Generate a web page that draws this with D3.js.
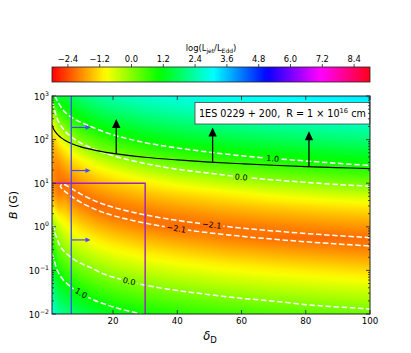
<!DOCTYPE html>
<html>
<head>
<meta charset="utf-8">
<script src="https://cdn.jsdelivr.net/npm/d3@7"></script>
<style>
body { margin: 0; background: #fff; }
text { font-family: "DejaVu Sans", sans-serif; }
</style>
</head>
<body>
<script>

// ---- data ----

// grid of log(Ljet/LEdd): one column per delta_D, rows are log10 B from 3 down to -2
var deltaCols = [1, 2, 3, 5, 7, 10, 15, 20, 30, 40, 55, 70, 85, 100];
var logBRows = [3, 2.75, 2.5, 2.25, 2, 1.75, 1.5, 1.25, 1, 0.75, 0.5, 0.25, 0,
                -0.25, -0.5, -0.75, -1, -1.25, -1.5, -1.75, -2];

var colD1   = [1.0, 0.1, -0.5, -0.95, -1.3, -1.55, -1.72, -1.85, -1.9, -1.75, -1.2, -0.45, 0.15, 0.5, 0.85, 1.2, 1.55, 1.9, 2.25, 2.6, 2.95];
var colD2   = [1.6, 0.6, -0.2, -0.8, -1.3, -1.62, -1.85, -1.97, -2.0, -1.85, -1.4, -0.8, -0.25, 0.2, 0.55, 0.88, 1.22, 1.57, 1.92, 2.27, 2.62];
var colD3   = [1.7, 0.95, 0.3, -0.35, -1.0, -1.45, -1.8, -2.02, -2.12, -2.0, -1.6, -1.05, -0.5, -0.15, 0.2, 0.55, 0.9, 1.25, 1.6, 1.95, 2.3];
var colD5   = [1.46, 1.01, 0.55, 0.03, -0.57, -1.13, -1.52, -1.86, -2.17, -1.92, -1.56, -1.19, -0.83, -0.46, -0.09, 0.28, 0.65, 1.01, 1.38, 1.75, 2.12];
var colD7   = [1.72, 1.27, 0.82, 0.34, -0.22, -0.82, -1.30, -1.67, -1.99, -2.14, -1.78, -1.41, -1.04, -0.67, -0.30, 0.07, 0.44, 0.81, 1.18, 1.55, 1.92];
var colD10  = [2.0, 1.55, 1.1, 0.65, 0.15, -0.45, -1.05, -1.45, -1.8, -2.1, -2.0, -1.64, -1.27, -0.90, -0.53, -0.16, 0.21, 0.58, 0.95, 1.32, 1.69];
var colD15  = [2.28, 1.87, 1.42, 0.97, 0.50, -0.03, -0.63, -1.17, -1.55, -1.89, -2.19, -1.90, -1.53, -1.16, -0.79, -0.42, -0.05, 0.32, 0.69, 1.06, 1.43];
var colD20  = [2.47, 2.08, 1.64, 1.19, 0.74, 0.25, -0.33, -0.93, -1.37, -1.73, -2.04, -2.08, -1.72, -1.35, -0.98, -0.61, -0.24, 0.13, 0.50, 0.87, 1.24];
var colD30  = [2.72, 2.36, 1.96, 1.51, 1.06, 0.60, 0.09, -0.51, -1.09, -1.48, -1.83, -2.13, -1.98, -1.61, -1.24, -0.87, -0.50, -0.13, 0.24, 0.61, 0.98];
var colD40  = [2.87, 2.54, 2.16, 1.73, 1.28, 0.83, 0.35, -0.21, -0.81, -1.29, -1.66, -1.98, -2.15, -1.79, -1.42, -1.05, -0.68, -0.31, 0.06, 0.43, 0.80];
var colD55  = [3.04, 2.74, 2.38, 1.98, 1.53, 1.08, 0.63, 0.13, -0.47, -1.07, -1.46, -1.81, -2.11, -1.99, -1.63, -1.26, -0.89, -0.52, -0.15, 0.22, 0.59];
var colD70  = [3.15, 2.86, 2.53, 2.15, 1.72, 1.27, 0.82, 0.34, -0.22, -0.82, -1.30, -1.67, -1.99, -2.14, -1.78, -1.41, -1.04, -0.67, -0.30, 0.07, 0.44];
var colD85  = [3.23, 2.96, 2.65, 2.29, 1.87, 1.42, 0.97, 0.51, -0.02, -0.62, -1.16, -1.55, -1.89, -2.19, -1.90, -1.53, -1.16, -0.79, -0.42, -0.05, 0.32];
var colD100 = [3.3, 3.05, 2.75, 2.4, 2.0, 1.55, 1.1, 0.65, 0.15, -0.45, -1.05, -1.45, -1.8, -2.1, -2.0, -1.64, -1.27, -0.90, -0.53, -0.16, 0.21];

var field = [colD1, colD2, colD3, colD5, colD7, colD10, colD15, colD20, colD30, colD40, colD55, colD70, colD85, colD100];

// contour lines, [delta_D, log10 B]
var cUpper10 = [[1.9, 3.0], [3, 2.84], [5.17, 2.62], [8, 2.47], [12.4, 2.32], [20, 2.11], [30, 1.93], [40, 1.81], [50, 1.71], [60, 1.63], [70, 1.565], [80, 1.51], [90, 1.455], [100, 1.41]];
var cUpper00 = [[1.0, 2.85], [1.5, 2.76], [2, 2.62], [3.1, 2.40], [5, 2.20], [6.7, 2.08], [10, 1.92], [14.5, 1.77], [20, 1.63], [30, 1.45], [40, 1.32], [50, 1.23], [60, 1.14], [70, 1.075], [80, 1.02], [90, 0.97], [100, 0.93]];
var cM21Upper = [[3.6, 0.93], [4.2, 0.98], [5.2, 0.96], [7, 0.88], [10, 0.75], [15, 0.574], [20, 0.449], [30, 0.273], [40, 0.148], [50, 0.051], [60, -0.028], [70, -0.095], [80, -0.153], [90, -0.204], [100, -0.25]];
var cM21Lower = [[3.6, 0.93], [4.2, 0.87], [5.2, 0.80], [7, 0.70], [10, 0.56], [15, 0.384], [20, 0.259], [30, 0.083], [40, -0.042], [50, -0.139], [60, -0.218], [70, -0.285], [80, -0.343], [90, -0.394], [100, -0.44]];
var cLower00 = [[1.0, 0.03], [1.53, 0.0], [2, -0.16], [2.6, -0.28], [3.6, -0.45], [5, -0.58], [7.25, -0.72], [10, -0.84], [12.9, -0.93], [17, -1.08], [23.3, -1.22], [30, -1.34], [40, -1.46], [50.3, -1.56], [60, -1.64], [69.4, -1.70], [80.8, -1.79], [90, -1.84], [100, -1.885]];
var cLower10 = [[1.0, -0.62], [1.53, -0.72], [2, -0.85], [2.6, -0.99], [4, -1.17], [6.72, -1.37], [10.9, -1.56], [14, -1.68], [18.1, -1.79], [22, -1.88], [27.5, -1.98], [29, -2.02]];

// contour labels: which line, at which delta_D
var contourLabels = [
  {line: cUpper10, d: 69.7, text: "1.0"},
  {line: cUpper00, d: 59.9, text: "0.0"},
  {line: cM21Upper, d: 50.7, text: "\u22122.1"},
  {line: cM21Lower, d: 39.7, text: "\u22122.1"},
  {line: cLower00, d: 25, text: "0.0"},
  {line: cLower10, d: 10.05, text: "1.0"}
];

// black solid limit line, [delta_D, B]
var limitDelta = [1, 1.5, 2, 3, 4, 5, 7, 10, 15, 20, 30, 40, 50, 60, 70, 80, 90, 100];
var limitB = [216, 176, 153, 125, 108, 96.6, 81.6, 68.3, 55.8, 48.3, 39.4, 34.2, 30.5, 27.9, 25.8, 24.1, 22.8, 21.6];

// black arrows pointing up from the limit line
var upArrows = [{d: 21, from: 47, to: 295}, {d: 51, from: 30.2, to: 190}, {d: 81, from: 24, to: 155}];

// blue line at delta_D = 7 with arrows to the right
var blueDelta = 7, blueArrowEnd = 13;
var blueArrowB = [190, 19.5, 0.5];

// purple box corner
var purpleDelta = 30, purpleB = 10;

var xTicks = [20, 40, 60, 80, 100];
var yDecades = [-2, -1, 0, 1, 2, 3];
var cbRange = [-3, 9];
var cbTicks = [-2.4, -1.2, 0.0, 1.2, 2.4, 3.6, 4.8, 6.0, 7.2, 8.4];

// matplotlib "hsv" colormap
var hsvStops = [0, 0.15873, 0.174603, 0.333333, 0.349206, 0.507937, 0.666667, 0.68254, 0.84127, 0.857143, 1];
var hsvColors = ["rgb(255,0,0)", "rgb(255,239,0)", "rgb(247,255,0)", "rgb(8,255,0)", "rgb(0,255,16)", "rgb(0,255,255)",
                 "rgb(0,16,255)", "rgb(16,0,255)", "rgb(255,0,255)", "rgb(255,0,239)", "rgb(255,0,24)"];

// ---- drawing ----

var W = 411, H = 353;
var L = 52, R = 370, T = 96, B = 314;

var svg = d3.select("body").append("svg")
    .attr("width", W).attr("height", H)
    .style("display", "block");

var x = d3.scaleLinear().domain([1, 100]).range([L, R]);
var y = d3.scaleLog().domain([1e-2, 1e3]).range([B, T]);
var yl = v => y(Math.pow(10, v));

var cmap = d3.scaleLinear().domain(hsvStops).range(hsvColors).interpolate(d3.interpolateRgb).clamp(true);
var norm = d3.scaleLinear().domain(cbRange).range([0, 1]).clamp(true);

var defs = svg.append("defs");
defs.append("clipPath").attr("id", "plotclip")
  .append("rect").attr("x", L).attr("y", T).attr("width", R - L).attr("height", B - T);

// heat map (bilinear shading of the grid)
var nC = deltaCols.length, nR = logBRows.length;
var colIdx = d3.scaleLinear().domain(deltaCols).range(d3.range(nC)).clamp(true);
var rowIdx = d3.scaleLinear().domain(logBRows).range(d3.range(nR)).clamp(true);
var pw = R - L, ph = B - T;
var cv = document.createElement("canvas");
cv.width = pw; cv.height = ph;
var ctx = cv.getContext("2d");
var im = ctx.createImageData(pw, ph);
for (var j = 0; j < ph; j++) {
  var r = rowIdx(Math.log10(y.invert(T + j + 0.5)));
  var r0 = Math.min(Math.floor(r), nR - 2), fr = r - r0;
  for (var i = 0; i < pw; i++) {
    var c = colIdx(x.invert(L + i + 0.5));
    var c0 = Math.min(Math.floor(c), nC - 2), fc = c - c0;
    var v = (1 - fc) * ((1 - fr) * field[c0][r0] + fr * field[c0][r0 + 1]) +
            fc * ((1 - fr) * field[c0 + 1][r0] + fr * field[c0 + 1][r0 + 1]);
    var col = d3.rgb(cmap(norm(v)));
    var k = 4 * (j * pw + i);
    im.data[k] = col.r; im.data[k + 1] = col.g; im.data[k + 2] = col.b; im.data[k + 3] = 255;
  }
}
ctx.putImageData(im, 0, 0);
svg.append("image")
    .attr("x", L).attr("y", T).attr("width", pw).attr("height", ph)
    .attr("href", cv.toDataURL());

var plot = svg.append("g").attr("clip-path", "url(#plotclip)");

// contour lines with gaps under labels
var mask = defs.append("mask").attr("id", "lblmask").attr("maskUnits", "userSpaceOnUse")
    .attr("x", 0).attr("y", 0).attr("width", W).attr("height", H);
mask.append("rect").attr("x", 0).attr("y", 0).attr("width", W).attr("height", H).attr("fill", "white");

var cline = d3.line().x(p => x(p[0])).y(p => yl(p[1])).curve(d3.curveCatmullRom.alpha(0.5));
var m21Loop = cM21Upper.slice().reverse().concat(cM21Lower.slice(1));
var clines = [cUpper10, cUpper00, m21Loop, cLower00, cLower10];

plot.append("g").attr("mask", "url(#lblmask)")
  .selectAll("path").data(clines).enter().append("path")
    .attr("d", cline)
    .attr("fill", "none")
    .attr("stroke", "white")
    .attr("stroke-width", 1.5)
    .attr("stroke-dasharray", "5.5,2.6");

var lblG = plot.append("g");
contourLabels.forEach(function(lb) {
  var ld = lb.line.map(p => p[0]), lv = lb.line.map(p => p[1]);
  var along = d3.scaleLinear().domain(ld).range(lv);
  var px = x(lb.d), py = yl(along(lb.d));
  var ang = Math.atan2(yl(along(lb.d + 3)) - yl(along(lb.d - 3)), x(lb.d + 3) - x(lb.d - 3)) * 180 / Math.PI;
  var t = lblG.append("text")
      .attr("transform", `translate(${px},${py}) rotate(${ang})`)
      .attr("text-anchor", "middle")
      .attr("dy", "0.35em")
      .attr("font-size", 8)
      .attr("fill", "black")
      .text(lb.text);
  var w = t.node().getComputedTextLength();
  mask.append("rect")
      .attr("transform", `translate(${px},${py}) rotate(${ang})`)
      .attr("x", -w / 2 - 2).attr("y", -4).attr("width", w + 4).attr("height", 8)
      .attr("fill", "black");
});

// black limit line
var limitPts = limitDelta.map((d, i) => [d, limitB[i]]);
plot.append("path")
    .attr("d", d3.line().x(p => x(p[0])).y(p => y(p[1])).curve(d3.curveCatmullRom.alpha(0.5))(limitPts))
    .attr("fill", "none").attr("stroke", "black").attr("stroke-width", 1.2);

// black arrows
upArrows.forEach(function(a) {
  var ax = x(a.d), y0 = y(a.from), y1 = y(a.to), hl = 9, hw = 4.2;
  plot.append("line").attr("x1", ax).attr("x2", ax).attr("y1", y0).attr("y2", y1 + hl - 1)
      .attr("stroke", "black").attr("stroke-width", 1.3);
  plot.append("path").attr("d", `M${ax},${y1}L${ax - hw},${y1 + hl}L${ax + hw},${y1 + hl}Z`).attr("fill", "black");
});

// blue line and arrows
var blueCol = "#4848ff";
var bx = x(blueDelta);
plot.append("line").attr("x1", bx).attr("x2", bx).attr("y1", T).attr("y2", B)
    .attr("stroke", blueCol).attr("stroke-width", 1.3);
blueArrowB.forEach(function(b) {
  var yy = y(b), x1 = x(blueArrowEnd), hl = 5, hw = 2.4;
  plot.append("line").attr("x1", bx).attr("x2", x1 - hl + 1).attr("y1", yy).attr("y2", yy)
      .attr("stroke", blueCol).attr("stroke-width", 1.2);
  plot.append("path").attr("d", `M${x1},${yy}L${x1 - hl},${yy - hw}L${x1 - hl},${yy + hw}Z`).attr("fill", blueCol);
});

// purple box
plot.append("path")
    .attr("d", `M${L},${y(purpleB)}H${x(purpleDelta)}V${B}`)
    .attr("fill", "none").attr("stroke", "#a020c0").attr("stroke-width", 1.4);

// annotation box
var ann = svg.append("g");
var at = ann.append("text").attr("x", 199).attr("y", 117).attr("font-size", 9.6)
    .style("white-space", "pre");
at.append("tspan").text("1ES 0229 + 200,  R = 1 \u00d7 10");
at.append("tspan").attr("dy", -3.8).attr("font-size", 6.7).text("16");
at.append("tspan").attr("dy", 3.8).text(" cm");
var bb = at.node().getBBox();
ann.insert("rect", "text")
    .attr("x", bb.x - 4).attr("y", 102.5).attr("width", bb.width + 8).attr("height", 21.5)
    .attr("fill", "white").attr("stroke", "#444").attr("stroke-width", 0.8);

// axes frame
svg.append("rect").attr("x", L).attr("y", T).attr("width", R - L).attr("height", B - T)
    .attr("fill", "none").attr("stroke", "#222").attr("stroke-width", 1);

// x ticks (inside, bottom and top)
var axG = svg.append("g").attr("stroke", "#222").attr("stroke-width", 0.8);
xTicks.forEach(function(t) {
  axG.append("line").attr("x1", x(t)).attr("x2", x(t)).attr("y1", B).attr("y2", B - 4);
  axG.append("line").attr("x1", x(t)).attr("x2", x(t)).attr("y1", T).attr("y2", T + 4);
});
svg.append("g").selectAll("text").data(xTicks).enter().append("text")
    .attr("x", d => x(d)).attr("y", 324).attr("text-anchor", "middle")
    .attr("font-size", 8.7).text(d => d);

// y ticks, major and minor (log)
yDecades.forEach(function(e) {
  var v = Math.pow(10, e);
  axG.append("line").attr("x1", L).attr("x2", L + 4).attr("y1", y(v)).attr("y2", y(v));
  axG.append("line").attr("x1", R).attr("x2", R - 4).attr("y1", y(v)).attr("y2", y(v));
  if (e < 3) {
    d3.range(2, 10).forEach(function(m) {
      var yy = y(m * v);
      axG.append("line").attr("x1", L).attr("x2", L + 2).attr("y1", yy).attr("y2", yy);
      axG.append("line").attr("x1", R).attr("x2", R - 2).attr("y1", yy).attr("y2", yy);
    });
  }
  var tx = svg.append("text").attr("x", 49).attr("y", y(v) + 3.5).attr("text-anchor", "end").attr("font-size", 8.7);
  tx.append("tspan").text("10");
  tx.append("tspan").attr("dy", -4).attr("font-size", 6.2).text(String(e).replace("-", "\u2212"));
});

// axis labels
var xl = svg.append("text").attr("x", 210).attr("y", 340).attr("text-anchor", "middle").attr("font-size", 11.5);
xl.append("tspan").attr("font-style", "italic").text("\u03b4");
xl.append("tspan").attr("dy", 2.5).attr("font-size", 8.5).text("D");

var ylab = svg.append("text").attr("transform", "translate(17,205) rotate(-90)")
    .attr("text-anchor", "middle").attr("font-size", 11);
ylab.append("tspan").attr("font-style", "italic").text("B");
ylab.append("tspan").text(" (G)");

// colorbar
var cbT = 67, cbH = 15;
var grad = defs.append("linearGradient").attr("id", "cbgrad").attr("x1", "0").attr("x2", "1").attr("y1", "0").attr("y2", "0");
hsvStops.forEach((s, i) => grad.append("stop").attr("offset", s).attr("stop-color", hsvColors[i]));
var cx = d3.scaleLinear().domain(cbRange).range([L, R]);
svg.append("rect").attr("x", L).attr("y", cbT).attr("width", R - L).attr("height", cbH)
    .attr("fill", "url(#cbgrad)").attr("stroke", "#222").attr("stroke-width", 0.8);
cbTicks.forEach(function(t) {
  svg.append("line").attr("x1", cx(t)).attr("x2", cx(t)).attr("y1", cbT).attr("y2", cbT - 3)
      .attr("stroke", "#222").attr("stroke-width", 0.8);
  svg.append("text").attr("x", cx(t)).attr("y", 61.5).attr("text-anchor", "middle").attr("font-size", 8.4)
      .text(d3.format(".1f")(t).replace("-", "\u2212"));
});
var cbl = svg.append("text").attr("x", 211).attr("y", 50.5).attr("text-anchor", "middle").attr("font-size", 8.4);
cbl.append("tspan").text("log(L");
cbl.append("tspan").attr("dy", 2).attr("font-size", 6).text("jet");
cbl.append("tspan").attr("dy", -2).text("/L");
cbl.append("tspan").attr("dy", 2).attr("font-size", 6).text("Edd");
cbl.append("tspan").attr("dy", -2).text(")");

</script>
</body>
</html>
